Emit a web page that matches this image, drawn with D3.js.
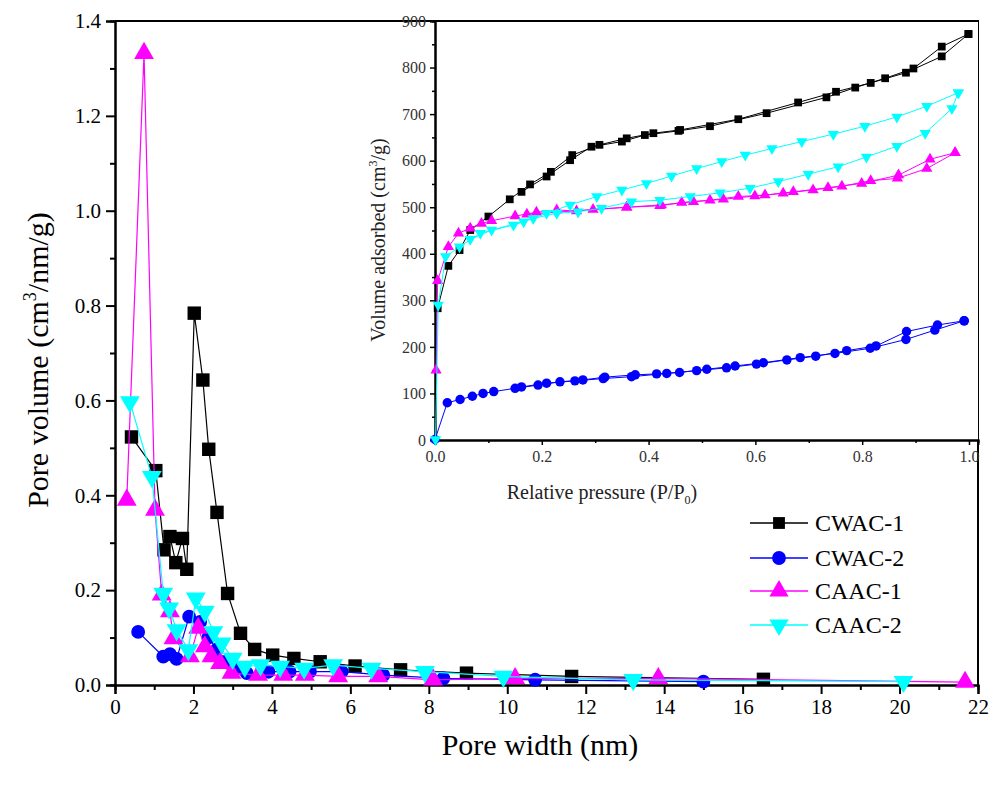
<!DOCTYPE html>
<html>
<head>
<meta charset="utf-8">
<script src="https://cdn.jsdelivr.net/npm/d3@7/dist/d3.min.js"></script>
<style>
  body { margin: 0; background: #fff; }
  svg { display: block; font-family: "Liberation Serif", "DejaVu Serif", serif; }
</style>
</head>
<body>
<div id="chart"></div>
<script>
// pore size distribution (main plot)
const cwac1X = [0.42, 1.04, 1.25, 1.40, 1.55, 1.72, 1.83, 2.02, 2.24, 2.39, 2.60, 2.87, 3.20, 3.56, 4.02, 4.56, 5.23, 6.12, 7.28, 8.96, 11.64, 16.53];
const cwac1Y = [0.523, 0.452, 0.285, 0.313, 0.258, 0.309, 0.244, 0.784, 0.643, 0.497, 0.364, 0.193, 0.109, 0.075, 0.063, 0.056, 0.049, 0.040, 0.032, 0.025, 0.018, 0.012];
const cwac2X = [0.59, 1.23, 1.40, 1.57, 1.89, 2.17, 2.38, 2.60, 2.85, 3.10, 3.36, 3.91, 4.45, 4.97, 5.78, 6.84, 8.37, 10.71, 15.0];
const cwac2Y = [0.112, 0.060, 0.065, 0.055, 0.144, 0.133, 0.100, 0.075, 0.050, 0.035, 0.025, 0.028, 0.028, 0.028, 0.028, 0.021, 0.014, 0.011, 0.007];
const caac1X = [0.30, 0.74, 1.02, 1.19, 1.40, 1.49, 1.91, 2.12, 2.29, 2.46, 2.68, 2.97, 3.65, 4.29, 4.84, 5.69, 6.71, 8.11, 10.2, 13.85, 21.67];
const caac1Y = [0.390, 1.332, 0.369, 0.190, 0.155, 0.098, 0.060, 0.120, 0.081, 0.060, 0.046, 0.025, 0.021, 0.021, 0.021, 0.018, 0.018, 0.011, 0.014, 0.014, 0.006];
const caac2X = [0.38, 0.94, 1.23, 1.38, 1.57, 1.87, 2.06, 2.29, 2.51, 2.72, 3.00, 3.31, 3.71, 4.21, 4.82, 5.56, 6.54, 7.90, 9.90, 13.21, 20.1];
const caac2Y = [0.597, 0.439, 0.193, 0.162, 0.116, 0.074, 0.183, 0.155, 0.112, 0.088, 0.056, 0.039, 0.042, 0.039, 0.035, 0.042, 0.035, 0.028, 0.018, 0.011, 0.007];

// isotherms (inset), [P/P0, volume]
const cwac1Ads = [[0.005, 283], [0.025, 374], [0.046, 408], [0.066, 451], [0.10, 480], [0.14, 517], [0.178, 549], [0.217, 576], [0.257, 612], [0.308, 634], [0.359, 648], [0.409, 659], [0.459, 666], [0.568, 689], [0.68, 725], [0.751, 748], [0.816, 767], [0.882, 789], [0.949, 824], [0.999, 872]];
const cwac1Des = [[0.999, 872], [0.949, 845], [0.896, 798], [0.843, 777], [0.787, 757], [0.733, 736], [0.621, 702], [0.515, 674], [0.456, 664], [0.393, 655], [0.35, 641], [0.293, 630], [0.253, 601], [0.209, 566], [0.162, 533]];
const cwac2Ads = [[0.0, 1], [0.023, 80], [0.047, 87], [0.07, 94], [0.09, 100], [0.11, 104], [0.15, 111], [0.193, 118], [0.234, 125], [0.277, 129], [0.318, 135], [0.375, 140], [0.415, 142], [0.458, 145], [0.509, 152], [0.562, 159], [0.615, 166], [0.684, 177], [0.749, 186], [0.815, 197], [0.882, 216], [0.936, 236], [0.991, 256]];
const cwac2Des = [[0.991, 256], [0.941, 247], [0.883, 233], [0.826, 202], [0.771, 192], [0.713, 180], [0.659, 172], [0.602, 163], [0.546, 155], [0.49, 149], [0.434, 143], [0.368, 136], [0.315, 132], [0.262, 127], [0.209, 122], [0.162, 114]];
const caac1Ads = [[0.002, 150], [0.005, 342], [0.025, 415], [0.044, 444], [0.066, 455], [0.087, 465], [0.106, 471], [0.15, 481], [0.19, 489], [0.228, 494], [0.265, 492], [0.296, 495], [0.359, 500], [0.424, 505], [0.484, 512], [0.54, 517], [0.599, 524], [0.652, 530], [0.708, 537], [0.762, 545], [0.816, 557], [0.866, 562], [0.921, 583], [0.974, 617]];
const caac1Des = [[0.974, 617], [0.927, 603], [0.868, 569], [0.799, 551], [0.736, 542], [0.671, 533], [0.618, 526], [0.568, 523], [0.515, 515], [0.462, 510], [0.421, 503], [0.359, 500], [0.172, 485]];
const caac2Ads = [[0.001, 1], [0.006, 290], [0.02, 394], [0.046, 415], [0.085, 444], [0.147, 462], [0.184, 476], [0.228, 487], [0.268, 490], [0.312, 498], [0.368, 512], [0.421, 515], [0.478, 523], [0.534, 531], [0.59, 541], [0.643, 555], [0.699, 571], [0.755, 587], [0.808, 608], [0.865, 631], [0.918, 659], [0.968, 712], [0.98, 746]];
const caac2Des = [[0.98, 746], [0.921, 717], [0.865, 694], [0.805, 674], [0.746, 657], [0.687, 641], [0.631, 626], [0.581, 612], [0.537, 598], [0.49, 583], [0.443, 567], [0.396, 551], [0.35, 537], [0.303, 523], [0.253, 505], [0.209, 487], [0.166, 469], [0.106, 451], [0.066, 431]];

const seriesNames = ["CWAC-1", "CWAC-2", "CAAC-1", "CAAC-2"];
const seriesColors = ["#000000", "#0000ff", "#ff00ff", "#00ffff"];

const W = 994, H = 787;
const svg = d3.select("#chart").append("svg").attr("width", W).attr("height", H);

const symbols = [d3.symbolSquare, d3.symbolCircle, d3.symbolTriangle, d3.symbolTriangle];
const rotations = [0, 0, 0, 180];

function drawMarkers(g, pts, i, size) {
  g.selectAll(null).data(pts).enter().append("path")
    .attr("d", d3.symbol().type(symbols[i]).size(size))
    .attr("transform", d => `translate(${d[0]},${d[1]}) rotate(${rotations[i]})`)
    .attr("fill", seriesColors[i]);
}

// ---------- main plot ----------
const x = d3.scaleLinear().domain([0, 22]).range([115, 978]);
const y = d3.scaleLinear().domain([0, 1.4]).range([685, 21]);

const axisFont = 21;
svg.append("g").attr("transform", "translate(0,685)")
  .call(d3.axisBottom(x).tickValues(d3.range(0, 23, 2)).tickSize(9).tickPadding(5).tickFormat(d3.format("d")));
svg.append("g").attr("transform", "translate(0,685)")
  .call(d3.axisBottom(x).tickValues(d3.range(1, 22, 2)).tickSize(5).tickFormat(""));
svg.append("g").attr("transform", "translate(115,0)")
  .call(d3.axisLeft(y).tickValues(d3.range(0, 1.41, 0.2)).tickSize(9).tickPadding(5).tickFormat(d3.format(".1f")));
svg.append("g").attr("transform", "translate(115,0)")
  .call(d3.axisLeft(y).tickValues(d3.range(0.1, 1.4, 0.2)).tickSize(5).tickFormat(""));

svg.selectAll(".domain").attr("stroke-width", 2).attr("stroke", "#000");
svg.selectAll(".tick line").attr("stroke-width", 2).attr("stroke", "#000");
svg.selectAll(".tick text").attr("font-size", axisFont).attr("font-family", "Liberation Serif").attr("fill", "#000");

// frame
svg.append("line").attr("x1", 115).attr("x2", 979).attr("y1", 21).attr("y2", 21).attr("stroke", "#000").attr("stroke-width", 2);
svg.append("line").attr("x1", 978).attr("x2", 978).attr("y1", 21).attr("y2", 686).attr("stroke", "#000").attr("stroke-width", 2);

const mainData = [[cwac1X, cwac1Y], [cwac2X, cwac2Y], [caac1X, caac1Y], [caac2X, caac2Y]];
const mainSizes = [180, 150, 170, 170];
const mainLine = d3.line();
mainData.forEach(([xs, ys], i) => {
  const pts = xs.map((v, k) => [x(v), y(ys[k])]);
  const g = svg.append("g");
  g.append("path").attr("d", mainLine(pts)).attr("fill", "none")
    .attr("stroke", seriesColors[i]).attr("stroke-width", 1.2);
  drawMarkers(g, pts, i, mainSizes[i]);
});

// axis titles
svg.append("text").attr("x", 540).attr("y", 755).attr("text-anchor", "middle")
  .attr("font-size", 30).text("Pore width (nm)");
const yt = svg.append("text").attr("transform", "translate(48,360) rotate(-90)")
  .attr("text-anchor", "middle").attr("font-size", 30);
yt.append("tspan").text("Pore volume (cm");
yt.append("tspan").attr("font-size", 18).attr("dy", -12).text("3");
yt.append("tspan").attr("dy", 12).text("/nm/g)");

// legend
seriesNames.forEach((name, i) => {
  const ly = [523, 558, 591, 625][i];
  const g = svg.append("g");
  g.append("line").attr("x1", 750).attr("x2", 808).attr("y1", ly).attr("y2", ly)
    .attr("stroke", seriesColors[i]).attr("stroke-width", 1.5);
  drawMarkers(g, [[779, ly]], i, [140, 150, 160, 160][i]);
  g.append("text").attr("x", 815).attr("y", ly + 8).attr("font-size", 24).text(name);
});

// ---------- inset ----------
const ix = d3.scaleLinear().domain([0, 1.0169]).range([435, 978]);
const iy = d3.scaleLinear().domain([0, 900]).range([440, 21]);
const inset = svg.append("g");
inset.append("rect").attr("x", 435).attr("y", 21).attr("width", 543).attr("height", 419).attr("fill", "#fff");

inset.append("g").attr("transform", "translate(0,440)")
  .call(d3.axisBottom(ix).tickValues(d3.range(0, 1.01, 0.2)).tickSize(5).tickPadding(6).tickFormat(d3.format(".1f")));
inset.append("g").attr("transform", "translate(0,440)")
  .call(d3.axisBottom(ix).tickValues(d3.range(0.1, 1.0, 0.2)).tickSize(3).tickFormat(""));
inset.append("g").attr("transform", "translate(435,0)")
  .call(d3.axisLeft(iy).tickValues(d3.range(0, 901, 100)).tickSize(5).tickPadding(4).tickFormat(d3.format("d")));
inset.append("g").attr("transform", "translate(435,0)")
  .call(d3.axisLeft(iy).tickValues(d3.range(50, 900, 100)).tickSize(3).tickFormat(""));
inset.selectAll(".domain").attr("stroke-width", 2).attr("stroke", "#000");
inset.selectAll(".tick line").attr("stroke-width", 1.5).attr("stroke", "#000");
inset.selectAll(".tick text").attr("font-size", 16).attr("font-family", "Liberation Serif").attr("fill", "#333");
inset.append("line").attr("x1", 435).attr("x2", 978).attr("y1", 21).attr("y2", 21).attr("stroke", "#000").attr("stroke-width", 2);

const isoData = [[cwac1Ads, cwac1Des], [cwac2Ads, cwac2Des], [caac1Ads, caac1Des], [caac2Ads, caac2Des]];
const insetSizes = [60, 70, 55, 55];
isoData.forEach(([ads, des], i) => {
  const pts = ads.concat(des).map(d => [ix(d[0]), iy(d[1])]);
  const g = inset.append("g");
  g.append("path").attr("d", mainLine(pts)).attr("fill", "none")
    .attr("stroke", seriesColors[i]).attr("stroke-width", 1);
  drawMarkers(g, pts, i, insetSizes[i]);
});

inset.append("text").attr("x", 602).attr("y", 499).attr("text-anchor", "middle")
  .attr("font-size", 20).attr("fill", "#222").call(t => {
    t.append("tspan").text("Relative pressure (P/P");
    t.append("tspan").attr("font-size", 12).attr("dy", 5).text("0");
    t.append("tspan").attr("dy", -5).text(")");
  });
inset.append("text").attr("transform", "translate(385,240) rotate(-90)").attr("text-anchor", "middle")
  .attr("font-size", 20).attr("fill", "#222").call(t => {
    t.append("tspan").text("Volume adsorbed (cm");
    t.append("tspan").attr("font-size", 12).attr("dy", -8).text("3");
    t.append("tspan").attr("dy", 8).text("/g)");
  });
</script>
</body>
</html>
